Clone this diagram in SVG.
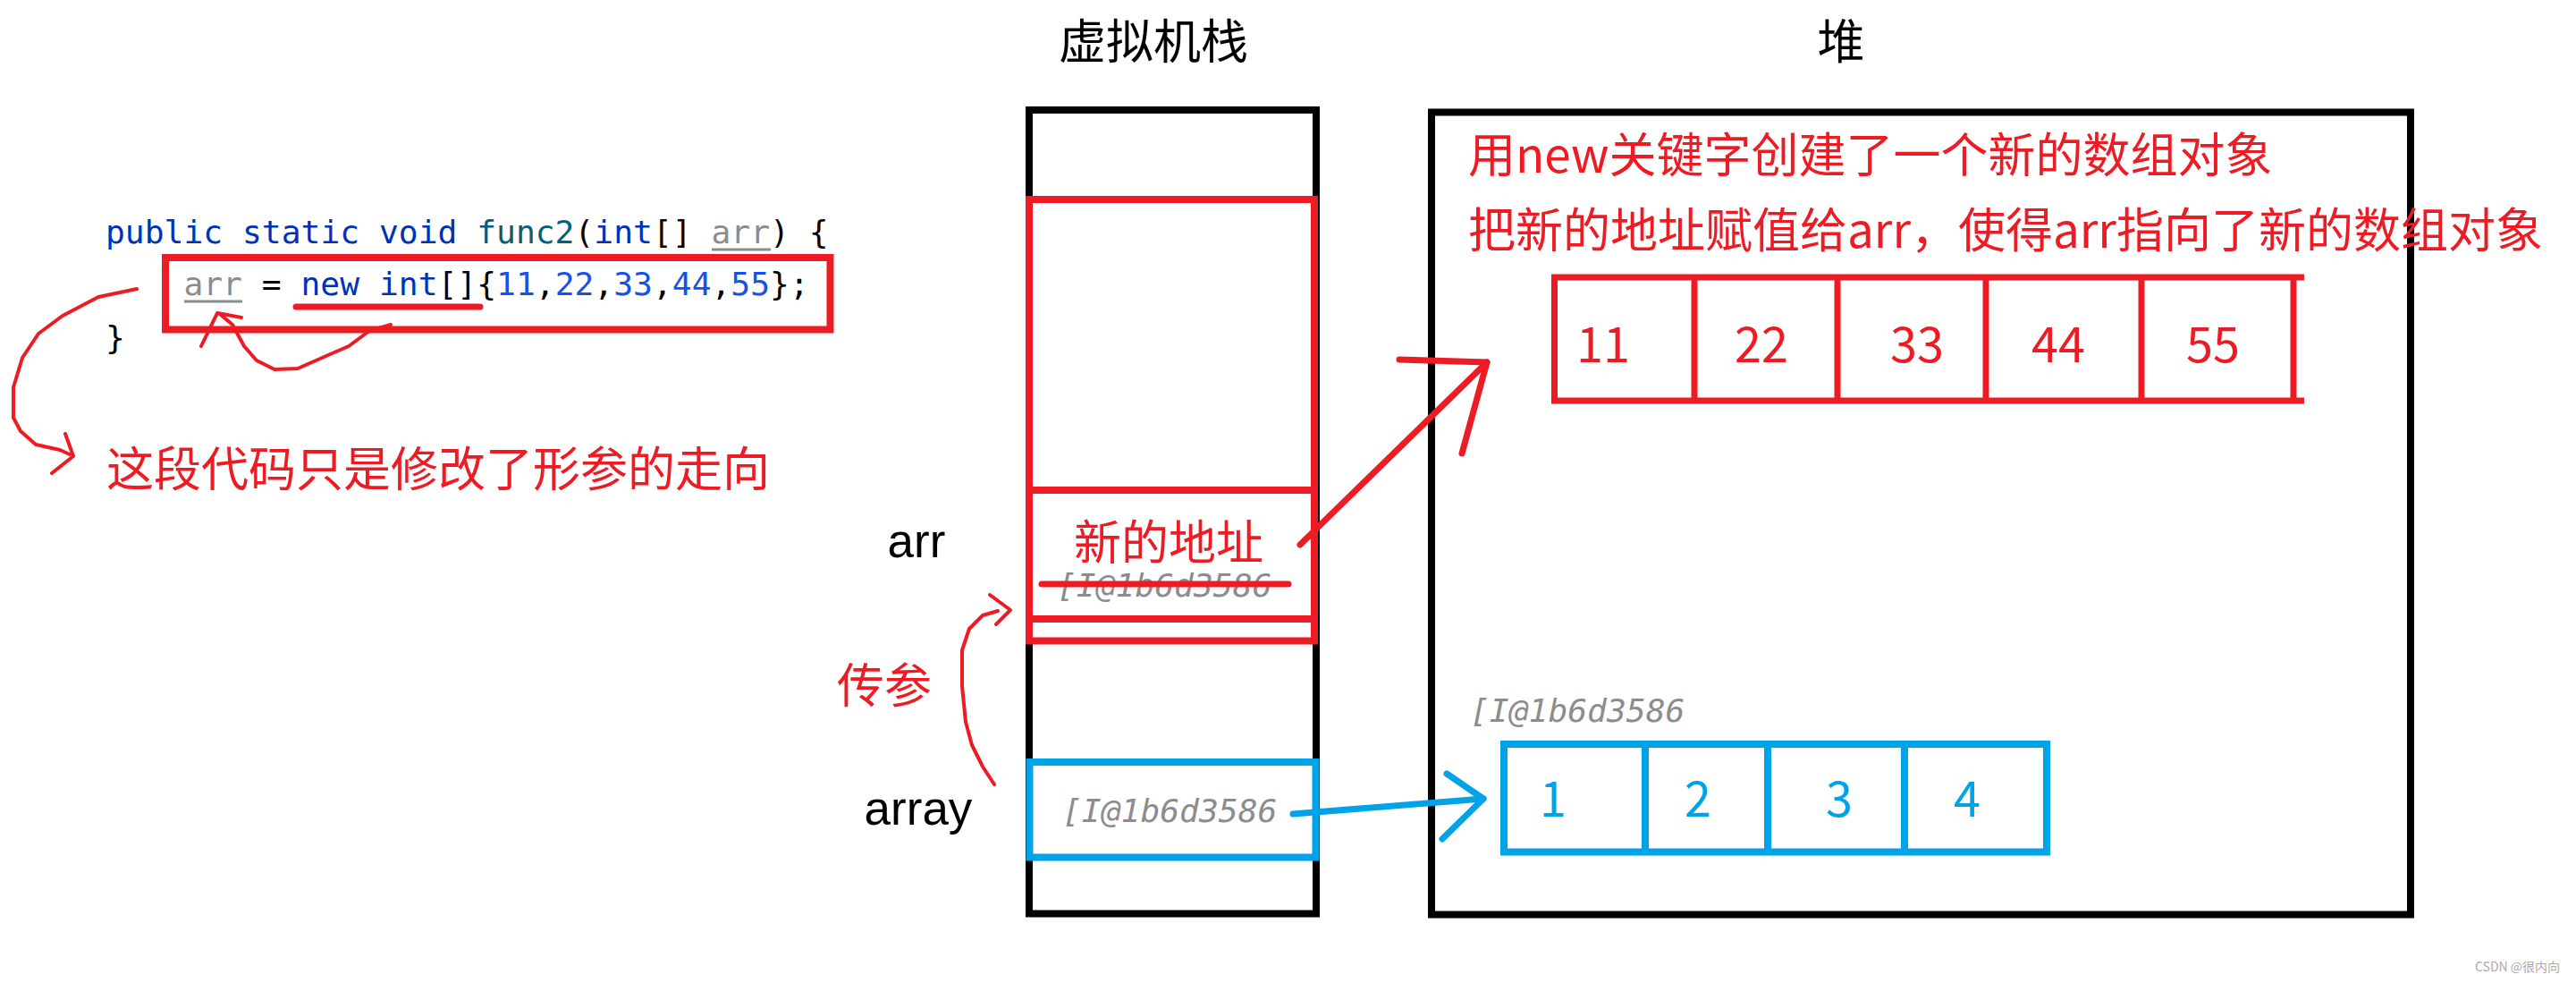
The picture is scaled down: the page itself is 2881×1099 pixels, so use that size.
<svg xmlns="http://www.w3.org/2000/svg" width="2881" height="1099" viewBox="0 0 2881 1099">
<style>
.code{font-family:"DejaVu Sans Mono","Liberation Mono",monospace;font-size:36.3px;fill:#000}
.kw{fill:#0033B3}.fn{fill:#00627A}.num{fill:#1750EB}.par{fill:#8C8C8C}
.addr{font-family:"DejaVu Sans Mono","Liberation Mono",monospace;font-size:36.3px;font-style:italic;fill:#8C8C8C}
.cn{font-family:"Noto Sans CJK SC",sans-serif;font-size:53px}
.red{fill:#ED1C24}.blk{fill:#000}.blu{fill:#00A2E8}
.lbl{font-family:"Liberation Sans",Arial,sans-serif;font-size:53px;fill:#000;text-anchor:middle}
.dig{font-family:"Noto Sans CJK SC",sans-serif;font-size:54px;text-anchor:middle}
.box{fill:none;stroke-width:8}
.rs{stroke:#ED1C24}.bs{stroke:#00A2E8}.ks{stroke:#000}
.pen{fill:none;stroke:#ED1C24;stroke-width:4;stroke-linecap:round;stroke-linejoin:round}
.thick{fill:none;stroke-width:7;stroke-linecap:round;stroke-linejoin:round}
</style>
<rect width="2881" height="1099" fill="#fff"/>

<g id="code">
<text class="code" x="118" y="272"><tspan class="kw">public static void </tspan><tspan class="fn">func2</tspan>(<tspan class="kw">int</tspan>[] <tspan class="par">arr</tspan>) {</text>
<line x1="796" y1="279" x2="862" y2="279" stroke="#8C8C8C" stroke-width="3"/>
<text class="code" x="205.4" y="330"><tspan class="par">arr</tspan> = <tspan class="kw">new int</tspan>[]{<tspan class="num">11</tspan>,<tspan class="num">22</tspan>,<tspan class="num">33</tspan>,<tspan class="num">44</tspan>,<tspan class="num">55</tspan>};</text>
<line x1="206" y1="337" x2="271" y2="337" stroke="#8C8C8C" stroke-width="3"/>
<text class="code" x="118" y="390">}</text>
<rect class="box rs" x="185" y="288" width="743.5" height="80.5" stroke-width="7"/>
<line x1="331" y1="343" x2="537" y2="343" class="thick rs"/>
</g>

<g id="note-code">
<text class="cn red" x="119" y="544">这段代码只是修改了形参的走向</text>
</g>

<g id="title-stack"><text class="cn blk" x="1184" y="66">虚拟机栈</text></g>
<g id="title-heap"><text class="cn blk" x="2059" y="66" text-anchor="middle">堆</text></g>

<g id="stack">
<rect class="box ks" x="1151" y="123" width="321" height="898.5"/>
<rect class="box rs" x="1151" y="223" width="319" height="493.5"/>
<line class="rs" x1="1151" y1="548" x2="1470" y2="548" stroke-width="8"/>
<line class="rs" x1="1151" y1="692" x2="1470" y2="692" stroke-width="8"/>
<rect class="box bs" x="1151.5" y="852" width="320" height="106.5"/>
</g>

<g id="slot-arr">
<text class="lbl" x="1025" y="623">arr</text>
<text class="cn red" x="1307" y="626" text-anchor="middle">新的地址</text>
<text class="addr" x="1182" y="667">[I@1b6d3586</text>
<line x1="1165" y1="653" x2="1441" y2="653" class="thick rs"/>
</g>

<g id="slot-array">
<text class="lbl" x="1027" y="922">array</text>
<text class="addr" x="1188" y="919">[I@1b6d3586</text>
</g>

<g id="label-pass">
<text class="cn red" x="936" y="786">传参</text>
</g>

<g id="heap">
<rect class="box ks" x="1601" y="125.5" width="1095" height="897"/>
<text class="cn red" x="1642" y="193">用new关键字创建了一个新的数组对象</text>
<text class="cn red" x="1642" y="277">把新的地址赋值给arr，使得arr指向了新的数组对象</text>
</g>

<g id="array-new">
<line class="rs" x1="1735" y1="310" x2="2577" y2="310" stroke-width="7"/>
<line class="rs" x1="1735" y1="448" x2="2577" y2="448" stroke-width="7"/>
<g class="rs" stroke-width="7">
<line x1="1738.5" y1="310" x2="1738.5" y2="448"/>
<line x1="1895" y1="310" x2="1895" y2="448"/>
<line x1="2055" y1="310" x2="2055" y2="448"/>
<line x1="2221" y1="310" x2="2221" y2="448"/>
<line x1="2395" y1="310" x2="2395" y2="448"/>
<line x1="2565" y1="310" x2="2565" y2="448"/>
</g>
<text class="dig red" x="1793" y="405">11</text>
<text class="dig red" x="1970" y="405">22</text>
<text class="dig red" x="2144" y="405">33</text>
<text class="dig red" x="2302" y="405">44</text>
<text class="dig red" x="2475" y="405">55</text>
</g>

<g id="array-old">
<text class="addr" x="1644" y="807">[I@1b6d3586</text>
<rect class="box bs" x="1682" y="832" width="607" height="120.5"/>
<g class="bs" stroke-width="8">
<line x1="1840" y1="832" x2="1840" y2="952.5"/>
<line x1="1977" y1="832" x2="1977" y2="952.5"/>
<line x1="2130" y1="832" x2="2130" y2="952.5"/>
</g>
<text class="dig blu" x="1737" y="913">1</text>
<text class="dig blu" x="1899" y="913">2</text>
<text class="dig blu" x="2057" y="913">3</text>
<text class="dig blu" x="2200" y="913">4</text>
</g>

<g id="connectors">
<polyline class="pen" points="437,363 413,370 390,387 367,397 333,412 307,413 287,403 273,387 260,363 247,352"/>
<polyline class="pen" points="225,387 243,350 270,355"/>
<polyline class="pen" points="153,323 110,332 70,353 43,373 25,400 15,433 15,467 23,482 40,497 67,503 78,508"/>
<polyline class="pen" points="73,485 82,510 58,529"/>
<polyline class="pen" points="1112,877 1099,857 1087,833 1080,807 1076,767 1076,727 1084,703 1099,688 1116,683"/>
<polyline class="pen" points="1107,665 1130,682 1114,698"/>
<line x1="1454" y1="609" x2="1663" y2="405" class="thick rs"/>
<polyline points="1565,402 1663,405 1635,507" class="thick rs"/>
<line x1="1446" y1="910" x2="1659" y2="893" class="thick bs" stroke-width="8"/>
<polyline points="1618,865 1659,893 1613,938" class="thick bs" stroke-width="8"/>
</g>

<g id="watermark">
<text x="2768" y="1086" font-family="'Noto Sans CJK SC',sans-serif" font-size="14" fill="#aaa">CSDN @很内向</text>
</g>
</svg>
